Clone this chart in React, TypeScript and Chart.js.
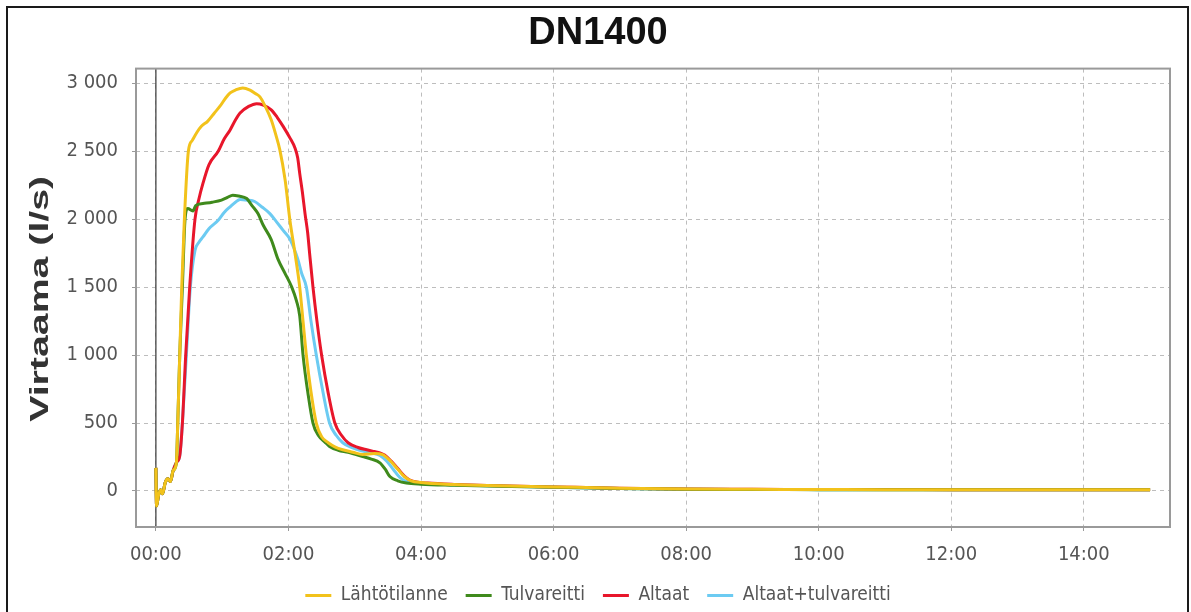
import React, { useEffect, useRef } from "react";
import { Chart, registerables } from "chart.js";

Chart.register(...registerables);

// ---- data (time in hours, flow in l/s) ----
const chartTitle = "DN1400";
const yAxisTitle = "Virtaama (l/s)";
const seriesNames = ["Lähtötilanne", "Tulvareitti", "Altaat", "Altaat+tulvareitti"];
const seriesColors = ["#f2c21b", "#3f8a1c", "#e8162b", "#6ccbf2"];

const xTicks = [0, 2, 4, 6, 8, 10, 12, 14];
const yTicks = [0, 500, 1000, 1500, 2000, 2500, 3000];

// common start (all series overlap before the rise)
const startT = [0, 0.01, 0.04, 0.07, 0.1, 0.14, 0.18, 0.22, 0.26, 0.31];
const startV = [170, -110, -30, 10, -20, 60, 90, 70, 150, 210];

const lahtoT = [0.33, 0.36, 0.39, 0.43, 0.49, 0.55, 0.62, 0.69, 0.78, 0.88, 0.97, 1.05, 1.12, 1.2, 1.31, 1.42, 1.5, 1.57, 1.65, 1.74, 1.81, 1.87, 1.95, 2.02, 2.1, 2.17, 2.22, 2.27, 2.34, 2.42, 2.5, 2.6, 2.7, 2.82, 2.97, 3.12, 3.3, 3.42, 3.55, 3.65, 3.75, 3.85, 4.0, 4.5, 5, 5.5, 6, 7, 8, 9, 10, 11, 12, 13, 14, 15];
const lahtoV = [500, 1000, 1500, 2000, 2500, 2580, 2640, 2685, 2720, 2780, 2833, 2890, 2929, 2950, 2966, 2950, 2925, 2900, 2830, 2731, 2620, 2510, 2288, 2000, 1745, 1500, 1250, 1000, 730, 500, 400, 355, 325, 303, 285, 268, 275, 268, 215, 160, 105, 75, 62, 48, 40, 35, 30, 20, 14, 12, 11, 10, 10, 10, 10, 10];

const tulvaT = [0.33, 0.36, 0.4, 0.44, 0.48, 0.56, 0.6, 0.71, 0.85, 0.99, 1.08, 1.16, 1.25, 1.37, 1.45, 1.54, 1.62, 1.74, 1.84, 1.95, 2.05, 2.12, 2.17, 2.22, 2.3, 2.37, 2.45, 2.55, 2.62, 2.75, 2.9, 3.12, 3.25, 3.38, 3.46, 3.53, 3.65, 3.78, 4.0, 4.5, 5, 6, 7, 8, 9, 10, 12, 14, 15];
const tulvaV = [500, 1000, 1500, 2000, 2078, 2060, 2100, 2115, 2125, 2140, 2160, 2177, 2170, 2152, 2100, 2041, 1955, 1850, 1708, 1600, 1500, 1400, 1289, 1000, 700, 500, 410, 360, 328, 300, 285, 254, 235, 207, 160, 106, 75, 59, 50, 42, 36, 28, 18, 13, 11, 10, 9, 9, 9];

const altaatT = [0.36, 0.4, 0.45, 0.51, 0.59, 0.65, 0.71, 0.8, 0.94, 1.03, 1.12, 1.2, 1.27, 1.4, 1.52, 1.62, 1.74, 1.83, 1.92, 2.02, 2.1, 2.14, 2.17, 2.21, 2.25, 2.29, 2.32, 2.37, 2.43, 2.5, 2.6, 2.7, 2.8, 2.9, 3.05, 3.18, 3.3, 3.38, 3.45, 3.55, 3.65, 3.75, 3.83, 3.95, 4.1, 4.5, 5, 6, 7, 8, 9, 10, 12, 14, 15];
const altaatV = [260, 500, 1000, 1500, 2000, 2150, 2263, 2400, 2500, 2590, 2657, 2730, 2781, 2830, 2850, 2840, 2805, 2750, 2683, 2600, 2522, 2450, 2337, 2200, 2041, 1900, 1745, 1500, 1250, 1000, 720, 500, 410, 355, 320, 303, 290, 281, 265, 220, 165, 110, 81, 65, 58, 48, 40, 30, 20, 14, 12, 11, 10, 10, 10];

const yhdT = [0.36, 0.4, 0.46, 0.52, 0.59, 0.65, 0.71, 0.8, 0.94, 1.03, 1.12, 1.2, 1.27, 1.38, 1.49, 1.6, 1.72, 1.82, 1.92, 2.02, 2.08, 2.14, 2.2, 2.27, 2.34, 2.42, 2.52, 2.62, 2.72, 2.82, 2.95, 3.1, 3.25, 3.38, 3.48, 3.58, 3.68, 3.8, 4.0, 4.5, 5, 6, 7, 8, 9, 10, 12, 14, 15];
const yhdV = [260, 500, 1000, 1500, 1770, 1830, 1869, 1930, 1992, 2050, 2091, 2125, 2145, 2140, 2130, 2090, 2041, 1980, 1918, 1856, 1790, 1708, 1600, 1500, 1250, 1000, 730, 500, 410, 355, 320, 295, 280, 262, 220, 160, 100, 65, 55, 45, 38, 28, 18, 13, 11, 10, 10, 10, 10];

const seriesT = [lahtoT, tulvaT, altaatT, yhdT];
const seriesV = [lahtoV, tulvaV, altaatV, yhdV];

const FONT = '"Liberation Sans Narrow", "DejaVu Sans Condensed", "Liberation Sans", Arial, sans-serif';

const fmtThousands = (v: number) => String(v).replace(/\B(?=(\d{3})+(?!\d))/g, " ");
const fmtHour = (v: number) => `${String(Math.round(v)).padStart(2, "0")}:00`;

const plotDecor = {
  id: "plotDecor",
  beforeDatasetsDraw(chart: any) {
    const { ctx, chartArea, scales } = chart;
    const x0 = scales.x.getPixelForValue(0);
    ctx.save();
    ctx.strokeStyle = "#444";
    ctx.lineWidth = 1.3;
    ctx.beginPath();
    ctx.moveTo(x0, chartArea.top);
    ctx.lineTo(x0, chartArea.bottom);
    ctx.stroke();
    ctx.restore();
  },
  afterDatasetsDraw(chart: any) {
    const { ctx, chartArea } = chart;
    ctx.save();
    ctx.strokeStyle = "#9a9a9a";
    ctx.lineWidth = 2;
    ctx.strokeRect(chartArea.left, chartArea.top, chartArea.right - chartArea.left, chartArea.bottom - chartArea.top);
    ctx.restore();
  },
  afterDraw(chart: any) {
    const { ctx, chartArea } = chart;
    ctx.save();
    ctx.translate(41, (chartArea.top + chartArea.bottom) / 2 + 1);
    ctx.rotate(-Math.PI / 2);
    ctx.font = 'bold 25px "Liberation Sans", Arial, sans-serif';
    const w = ctx.measureText(yAxisTitle).width;
    ctx.scale(246 / w, 1);
    ctx.fillStyle = "#333";
    ctx.textAlign = "center";
    ctx.textBaseline = "middle";
    ctx.fillText(yAxisTitle, 0, 0);
    ctx.restore();
  },
};

export default function App() {
  const ref = useRef<HTMLCanvasElement | null>(null);

  useEffect(() => {
    if (!ref.current) return;
    const datasets = seriesNames.map((name, i) => {
      const data: { x: number; y: number }[] = [];
      startT.forEach((t, k) => data.push({ x: t, y: startV[k] }));
      seriesT[i].forEach((t, k) => data.push({ x: t, y: seriesV[i][k] }));
      return {
        label: name,
        data,
        borderColor: seriesColors[i],
        backgroundColor: seriesColors[i],
        borderWidth: 3,
        pointRadius: 0,
        pointHoverRadius: 0,
        cubicInterpolationMode: "monotone" as const,
        fill: false,
        pointStyle: "line" as const,
      };
    });

    const chart = new Chart(ref.current, {
      type: "line",
      data: { datasets },
      plugins: [plotDecor],
      options: {
        animation: false,
        responsive: false,
        maintainAspectRatio: false,
        parsing: false,
        layout: { padding: { left: 26, right: 21, top: 0, bottom: -3 } },
        font: { family: FONT },
        plugins: {
          title: {
            display: true,
            text: chartTitle,
            color: "#111",
            font: { family: '"Liberation Sans", Arial, sans-serif', size: 38, weight: "bold" },
            padding: { top: 11, bottom: 12 },
          },
          legend: {
            position: "bottom",
            labels: {
              usePointStyle: true,
              pointStyleWidth: 26,
              color: "#555",
              font: { family: FONT, size: 19 },
              padding: 18,
            },
          },
          tooltip: { enabled: false },
        },
        scales: {
          x: {
            type: "linear",
            min: -0.3,
            max: 15.3,
            afterBuildTicks: (axis: any) => {
              axis.ticks = xTicks.map((v) => ({ value: v }));
            },
            afterFit: (axis: any) => {
              axis.height = 41;
            },
            ticks: {
              color: "#555",
              font: { family: FONT, size: 20 },
              padding: 12,
              maxRotation: 0,
              callback: (v: any) => fmtHour(Number(v)),
            },
            grid: { color: "#bdbdbd", lineWidth: 1, tickLength: 4, tickColor: "#999", drawTicks: true },
            border: { display: false, dash: [4, 4] },
          },
          y: {
            type: "linear",
            min: -265,
            max: 3108,
            afterBuildTicks: (axis: any) => {
              axis.ticks = yTicks.map((v) => ({ value: v }));
            },
            afterFit: (axis: any) => {
              axis.width = 110;
            },
            ticks: {
              color: "#555",
              font: { family: FONT, size: 20 },
              padding: 14,
              callback: (v: any) => fmtThousands(Number(v)),
            },
            grid: { color: "#bdbdbd", lineWidth: 1, tickLength: 4, tickColor: "#999", drawTicks: true },
            border: { display: false, dash: [4, 4] },
          },
        },
      },
    } as any);

    return () => chart.destroy();
  }, []);

  return (
    <div style={{ position: "fixed", left: 0, top: 0, width: 1191, height: 612, background: "#fff" }}>
      <canvas ref={ref} width={1191} height={612} style={{ width: 1191, height: 612, display: "block" }} />
      <div
        style={{
          position: "absolute",
          left: 6,
          top: 6,
          width: 1183,
          height: 700,
          border: "2px solid #1a1a1a",
          boxSizing: "border-box",
          pointerEvents: "none",
        }}
      />
    </div>
  );
}
